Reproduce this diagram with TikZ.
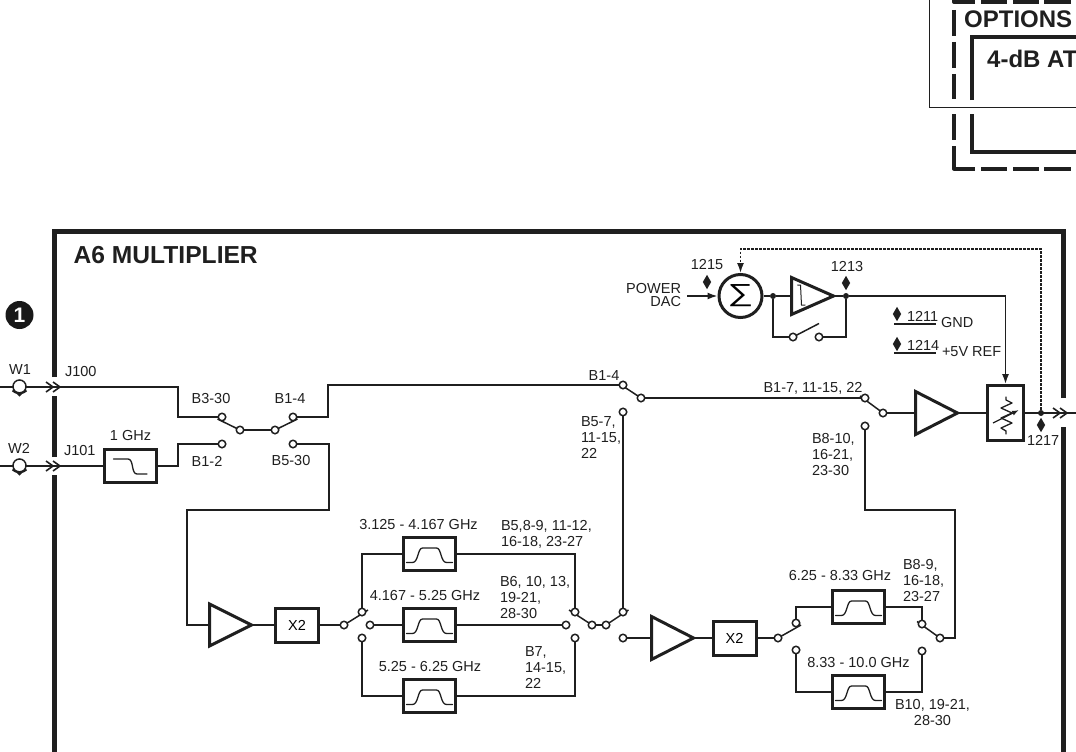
\documentclass[tikz,border=0pt]{standalone}
\usepackage{fontspec}
\usepackage{graphicx}
\setmainfont{Liberation Sans}
\usetikzlibrary{shapes.geometric,arrows.meta}
\pgfdeclarelayer{bg}
\pgfsetlayers{bg,main}
\tikzset{
 x=1pt,y=-1pt,
 wire/.style={line width=1.5pt,color=black!88},
 contact/.style={circle,draw=black!88,fill=white,line width=1.5pt,minimum size=7.5pt,inner sep=0pt,outer sep=0pt},
 lbl/.style={font=\fontsize{14.5}{16}\selectfont,color=black!88,inner sep=0pt,outer sep=0pt},
 llbl/.style={lbl,align=left},
 boxn/.style={rectangle,draw=black!88,line width=3pt,inner sep=0pt,fill=white},
 fbox/.style={boxn,minimum width=52pt,minimum height=33pt},
 xbox/.style={boxn,minimum width=43pt,minimum height=34pt,font=\fontsize{14.5}{15}\selectfont},
 amp/.style={isosceles triangle,isosceles triangle stretches,shape border rotate=0,draw=black!88,line width=3pt,inner sep=0pt,outer sep=0pt,minimum width=#1,minimum height=42pt,anchor=lower side,fill=white},
 tp/.style={diamond,fill=black!88,minimum width=8.5pt,minimum height=14.5pt,inner sep=0pt},
 junction/.style={circle,fill=black!88,minimum size=6pt,inner sep=0pt},
 hdr/.style={font=\bfseries\fontsize{24}{26}\selectfont,color=black!88,inner sep=0pt,anchor=base west},
 bar/.style={line width=5pt,color=black!88},
 dsh/.style={line width=4pt,color=black!88},
 chev/.style={line width=1.6pt,color=black!88},
 curve/.style={line width=1.3pt,color=black!88,line cap=round},
 tipa/.style={-{Latex[length=10pt,width=7pt]}},
}
\newcommand{\bpcurve}[1]{\draw[curve,shift={(#1.center)}] (-23,8.5) -- (-17,8.5) .. controls (-11,8.5) and (-12,-6) .. (-7,-6) -- (7,-6) .. controls (12,-6) and (11,8.5) .. (17,8.5) -- (23,8.5);}
\newcommand{\chevrons}[2]{\draw[chev] (#1-7,#2-5)--(#1,#2)--(#1-7,#2+5) (#1,#2-5)--(#1+7,#2)--(#1,#2+5);}
\newcommand{\armline}[2]{\begin{pgfonlayer}{bg}\draw[wire] (#1)--(#2);\end{pgfonlayer}}
\begin{document}
\begin{tikzpicture}
\clip (0,0) rectangle (1076,752);
% ---- top right options
\draw[line width=1pt,color=black!88] (929,-2)--(929,107)--(1078,107);
\foreach \a/\b in {10/36,42/68,74/99,114/140} \draw[dsh] (954,\a)--(954,\b);
\draw[dsh,line join=round] (954,146)--(954,168.5)--(975,168.5);
\foreach \a/\b in {981/1007,1013/1039,1044/1071} \draw[dsh] (\a,168.5)--(\b,168.5);
\draw[dsh,line join=round] (954,-3)--(954,2)--(975,2);
\foreach \a/\b in {981/1007,1013/1039,1044/1071} \draw[dsh] (\a,2)--(\b,2);
\draw[dsh] (972,100)--(972,37)--(1078,37);
\draw[dsh] (972,114)--(972,152)--(1078,152);
\node[hdr] (opt) at (964,27.5) {OPTIONS};
\node[hdr] (atten) at (987,67) {4-dB AT};
% ---- frame
\draw[bar] (54,760)--(54,475);
\draw[bar] (54,457)--(54,396);
\draw[bar] (54,377)--(54,231)--(1063,231)--(1063,398);
\draw[bar] (1063,427)--(1063,760);
\node[hdr,font=\bfseries\fontsize{24.6}{26}\selectfont] (title) at (73.5,263) {A6 MULTIPLIER};
\node[circle,fill=black!90,minimum size=28pt,inner sep=0pt,text=white,font=\bfseries\fontsize{21}{21}\selectfont] (one) at (19.5,315) {1};
% ---- inputs
\coordinate (inL1) at (0,387); \coordinate (inL2) at (0,466);
\coordinate (j100) at (53,387); \coordinate (j101) at (53,466);
\draw[wire] (inL1)--(j100);
\draw[wire] (inL2)--(j101);
\node[circle,draw=black!88,fill=white,line width=1.5pt,minimum size=13pt,inner sep=0pt] (w1) at (19.5,386.5) {};
\node[circle,draw=black!88,fill=white,line width=1.5pt,minimum size=13pt,inner sep=0pt] (w2) at (19.5,465.5) {};
\foreach \n in {w1,w2}{
 \draw[black!88,line width=2pt,shift={(\n.center)}] (-7,4) .. controls (-4,7.5) and (4,7.5) .. (7,4);
 \fill[black!88,shift={(\n.center)}] (-4,6) -- (4,6) -- (0,10) -- cycle;
}
\chevrons{53}{387}\chevrons{53}{466}
\node[lbl] (lw1) at (20,370) {W1};
\node[lbl] (lw2) at (19,448) {W2};
\node[lbl,anchor=west] (lj100) at (65,372) {J100};
\node[lbl,anchor=west] (lj101) at (64,451) {J101};
% first switches
\node[contact] (s1a) at (222,417) {};
\node[contact] (s1b) at (222,444) {};
\node[contact] (s1c) at (240,430) {};
\node[contact] (s2c) at (275,430) {};
\node[contact] (s2a) at (293,417) {};
\node[contact] (s2b) at (293,444) {};
\draw[wire] (s1c)--(s2c);
\armline{s1c}{217.5,419}
\armline{s2c}{297.5,419}
\draw[wire] (j100)--(178,387)--(178,417)--(s1a);
\node[fbox] (lp) at (130.5,466) {};
\draw[wire] (j101)--(lp);
\draw[wire] (lp)--(178,466)--(178,444)--(s1b);
\draw[curve] (113.5,459)--(128,459) .. controls (134,459) and (131,474) .. (137,474)--(147,474);
\node[lbl] (l1g) at (130.5,436) {1 GHz};
\node[lbl] (lb330) at (211,399) {B3-30};
\node[lbl] (lb14a) at (290,399) {B1-4};
\node[lbl] (lb12) at (207,461) {B1-2};
\node[lbl] (lb530) at (291,461) {B5-30};
% main upper line
\node[contact] (s3a) at (623,385) {};
\node[contact] (s3b) at (623,412) {};
\node[contact] (s3c) at (641,398) {};
\draw[wire] (s2a)--(328,417)--(328,385)--(s3a);
\armline{s3c}{619,383.5}
\node[lbl] (lb14b) at (604,376) {B1-4};
\node[llbl,anchor=north west] (lb57) at (581,417) {B5-7,\\11-15,\\22};
% second section
\node[amp=42pt] (a1) at (209.5,625) {};
\draw[wire] (s2b)--(329,444)--(329,510)--(187,510)--(187,625)--(a1.lower side);
\node[xbox] (x1) at (297,625) {X2};
\draw[wire] (a1.apex)--(x1);
\node[contact] (s4c) at (344,625) {};
\node[contact] (s4a) at (362,612) {};
\node[contact] (s4m) at (370,625) {};
\node[contact] (s4b) at (362,638) {};
\draw[wire] (x1)--(s4c);
\armline{s4c}{368,610}
\node[fbox] (f1) at (429.5,554) {};
\node[fbox] (f2) at (429.5,625) {};
\node[fbox] (f3) at (429.5,696) {};
\bpcurve{f1}\bpcurve{f2}\bpcurve{f3}
\node[contact] (s5a) at (575,612) {};
\node[contact] (s5m) at (566,625) {};
\node[contact] (s5b) at (575,638) {};
\node[contact] (s5c) at (592,625) {};
\node[contact] (s6c) at (606,625) {};
\node[contact] (s6a) at (623,612) {};
\node[contact] (s6b) at (623,638) {};
\draw[wire] (s5c)--(s6c);
\armline{s5c}{569,610}
\armline{s6c}{628.5,610}
\draw[wire] (s3b)--(s6a);
\draw[wire] (s4a)--(362,554)--(f1);
\draw[wire] (s4m)--(f2);
\draw[wire] (s4b)--(362,696)--(f3);
\draw[wire] (f1)--(575,554)--(s5a);
\draw[wire] (f2)--(s5m);
\draw[wire] (f3)--(575,696)--(s5b);
\node[lbl] (lf1) at (418.5,525) {3.125 - 4.167 GHz};
\node[lbl] (lf2) at (425,596) {4.167 - 5.25 GHz};
\node[lbl] (lf3) at (430,667) {5.25 - 6.25 GHz};
\node[llbl,anchor=north west] (lb5) at (501,520) {B5,8-9, 11-12,\\16-18, 23-27};
\node[llbl,anchor=north west] (lb6) at (500,576) {B6, 10, 13,\\19-21,\\28-30};
\node[llbl,anchor=north west] (lb7) at (525,647) {B7,\\14-15,\\22};
% third section
\node[amp=43pt] (a2) at (651.5,638) {};
\node[xbox] (x2) at (734.5,638) {X2};
\draw[wire] (s6b)--(a2.lower side);
\draw[wire] (a2.apex)--(x2);
\node[contact] (s7c) at (778,638) {};
\node[contact] (s7a) at (796,623) {};
\node[contact] (s7b) at (796,650) {};
\draw[wire] (x2)--(s7c);
\armline{s7c}{801,625}
\node[fbox] (f4) at (858.5,607) {};
\node[fbox] (f5) at (858.5,692) {};
\bpcurve{f4}\bpcurve{f5}
\node[contact] (s8c) at (940,638) {};
\node[contact] (s8a) at (922,624) {};
\node[contact] (s8b) at (922,651) {};
\armline{s8c}{917,621.5}
\draw[wire] (s7a)--(796,607)--(f4);
\draw[wire] (s7b)--(796,692)--(f5);
\draw[wire] (f4)--(922,607)--(s8a);
\draw[wire] (f5)--(922,692)--(s8b);
\node[lbl] (lf4) at (840,576) {6.25 - 8.33 GHz};
\node[lbl] (lf5) at (858.5,663) {8.33 - 10.0 GHz};
\node[llbl,anchor=north west] (lb8) at (903,559) {B8-9,\\16-18,\\23-27};
\node[lbl,align=center,anchor=north west] (lb10) at (895,699.5) {B10, 19-21,\\28-30};
% upper right
\node[contact] (s9a) at (865,398) {};
\node[contact] (s9b) at (865,426) {};
\node[contact] (s9c) at (883,413) {};
\draw[wire] (s3c)--(s9a);
\armline{s9c}{860,396}
\draw[wire] (s9b)--(865,510)--(955,510)--(955,638)--(s8c);
\node[lbl] (lb17) at (813,388) {B1-7, 11-15, 22};
\node[llbl,anchor=north west] (lb810) at (812,433.5) {B8-10,\\16-21,\\23-30};
\node[amp=43pt] (a3) at (915.5,413) {};
\draw[wire] (s9c)--(a3.lower side);
\node[boxn,minimum width=36pt,minimum height=55pt] (att) at (1005.5,413) {};
\draw[wire] (a3.apex)--(att);
\coordinate (out) at (1078,413);
\draw[wire] (att)--(out);
\node[junction] (jout) at (1041,413) {};
\draw[chev] (1053,408)--(1060,413)--(1053,418) (1060,408)--(1067,413)--(1060,418);
\draw[curve,line join=round] (1006,397)--(1006,400)--(1012,403)--(1001,408)--(1012,413)--(1001,418)--(1012,423)--(1001,428)--(1006,431)--(1006,434);
\draw[line width=1.3pt,color=black!88,-{Latex[length=7pt,width=5pt]}] (993,423)--(1019,410);
\node[tp] (tp17) at (1041,425) {};
\node[lbl,anchor=west,inner sep=0pt] (l17) at (1027,440) {1217};
% ALC
\node[circle,draw=black!88,line width=3pt,minimum size=43pt,inner sep=0pt,font=\fontsize{29}{29}\selectfont] (sum) at (740.5,296) {\scalebox{1.24}[0.85]{∑}};
\node[lbl,align=right,anchor=east,font=\fontsize{14.5}{12.5}\selectfont] (dac) at (681,295) {POWER\\DAC};
\coordinate (dacR) at (687,296);
\draw[wire,tipa] (dacR)--(sum);
\node[tp] (tp15) at (707,282) {};
\node[lbl] (l15) at (707,265) {1215};
\node[amp=37pt] (a4) at (791.5,296) {};
\draw[curve,line width=1pt] (797.5,285)--(800.5,285)--(801.5,305)--(805,305);
\node[junction] (j1) at (773,296) {};
\node[junction] (j2) at (846,296) {};
\draw[wire] (sum)--(j1)--(a4.lower side);
\draw[wire] (a4.apex)--(j2);
\draw[wire,tipa] (j2)--(1005.5,296)--(att.north);
\node[tp] (tp13) at (846,283) {};
\node[lbl] (l13) at (847,267) {1213};
\node[contact] (b1) at (793,337) {};
\node[contact] (b2) at (819,337) {};
\draw[wire] (j1)--(773,337)--(b1);
\draw[wire] (b2)--(846,337)--(j2);
\armline{b1}{819,323.5}
\draw[wire,dash pattern=on 2.5pt off 1.5pt,-{Latex[length=10pt,width=7pt]}] (jout)--(1041,249)--(740.5,249)--(sum.north);
\node[tp] (tp11) at (897,314) {};
\node[lbl,anchor=west] (l11) at (907,316) {1211};
\coordinate (u1a) at (894,324); \coordinate (u1b) at (936,324);
\draw[wire] (u1a)--(u1b);
\node[lbl,anchor=west] (lgnd) at (941,323) {GND};
\node[tp] (tp14) at (897,344) {};
\node[lbl,anchor=west] (l14) at (907,345) {1214};
\coordinate (u2a) at (894,353); \coordinate (u2b) at (936,353);
\draw[wire] (u2a)--(u2b);
\node[lbl,anchor=west] (l5v) at (942,352) {+5V REF};
\end{tikzpicture}
\end{document}
